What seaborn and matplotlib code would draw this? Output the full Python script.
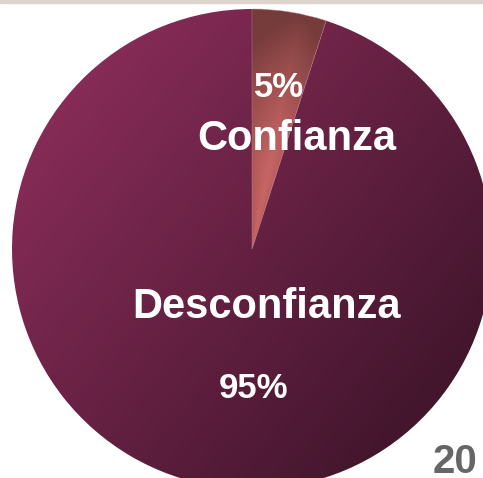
import numpy as np
import matplotlib
matplotlib.use("Agg")
import matplotlib.pyplot as plt
import seaborn as sns
from matplotlib.colors import to_rgb

# datos
labels = ["Confianza", "Desconfianza"]
shares = [5, 95]
pct_labels = ["5%", "95%"]

# colores de los degradados (claro -> oscuro)
conf_colors = ["#c86565", "#763b3b"]
desc_colors = ["#94305f", "#44162e"]

sns.set_theme(style="white")
plt.rcParams["font.family"] = ["Liberation Sans", "DejaVu Sans"]

fig = plt.figure(figsize=(4.83, 4.78), dpi=100)
ax = fig.add_axes([0, 0, 1, 1])

wedges, _ = ax.pie(
    shares,
    startangle=90,
    counterclock=False,
    radius=1.0,
    wedgeprops=dict(linewidth=0),
)
ax.set_xlim(-1.05, 0.9625)
ax.set_ylim(-0.954, 1.0375)
ax.set_aspect("equal")
ax.axis("off")


def mix(c1, c2, t):
    a = np.array(to_rgb(c1))
    b = np.array(to_rgb(c2))
    return a[None, None, :] * (1 - t[..., None]) + b[None, None, :] * t[..., None]


n = 500
xs = np.linspace(-1, 1, n)
ys = np.linspace(1, -1, n)
X, Y = np.meshgrid(xs, ys)
R = np.hypot(X, Y)

# degradado de Desconfianza: de arriba-izquierda a abajo-derecha
t_desc = np.clip(0.65 * (X + 1) / 2 + 0.55 * (1 - Y) / 2, 0, 1)
img_desc = mix(desc_colors[0], desc_colors[1], t_desc)

# degradado de Confianza: mas claro hacia el centro
ang = np.degrees(np.arctan2(X, Y)) / (360 * shares[0] / sum(shares))
t_r = np.clip((R - 0.3) / 0.7, 0, 1) ** 1.6
t_conf = np.clip(t_r + 0.3 * np.abs(ang - 0.65) / 0.65, 0, 1)
img_conf = mix(conf_colors[0], conf_colors[1], t_conf)

for w, img in zip(wedges, [img_conf, img_desc]):
    w.set_facecolor("none")
    im = ax.imshow(img, extent=(-1, 1, -1, 1), zorder=0.5, interpolation="bilinear")
    im.set_clip_path(w)

# linea fina en el borde izquierdo de la porcion de Confianza
wedges[0].set_edgecolor((0.78, 0.5, 0.5, 0.6))
wedges[0].set_linewidth(0.5)

# textos
txt = dict(color="white", fontweight="bold", ha="center", va="baseline")
ax.text(0.1125, 0.633, pct_labels[0], fontsize=25, **txt)
ax.text(0.1875, 0.4125, labels[0], fontsize=30, **txt)
ax.text(0.0625, -0.2875, labels[1], fontsize=30, **txt)
ax.text(0.006, -0.621, pct_labels[1], fontsize=25, **txt)

# barra superior y numero de pagina
fig.add_artist(plt.Rectangle((0, 1 - 3 / 478), 1, 3 / 478,
                             transform=fig.transFigure, color="#ddd5cc"))
fig.text(433 / 483, 5 / 478, "20", color="#666666", fontsize=29,
         fontweight="bold", ha="left", va="baseline")

fig.savefig("out.png", dpi=100)
